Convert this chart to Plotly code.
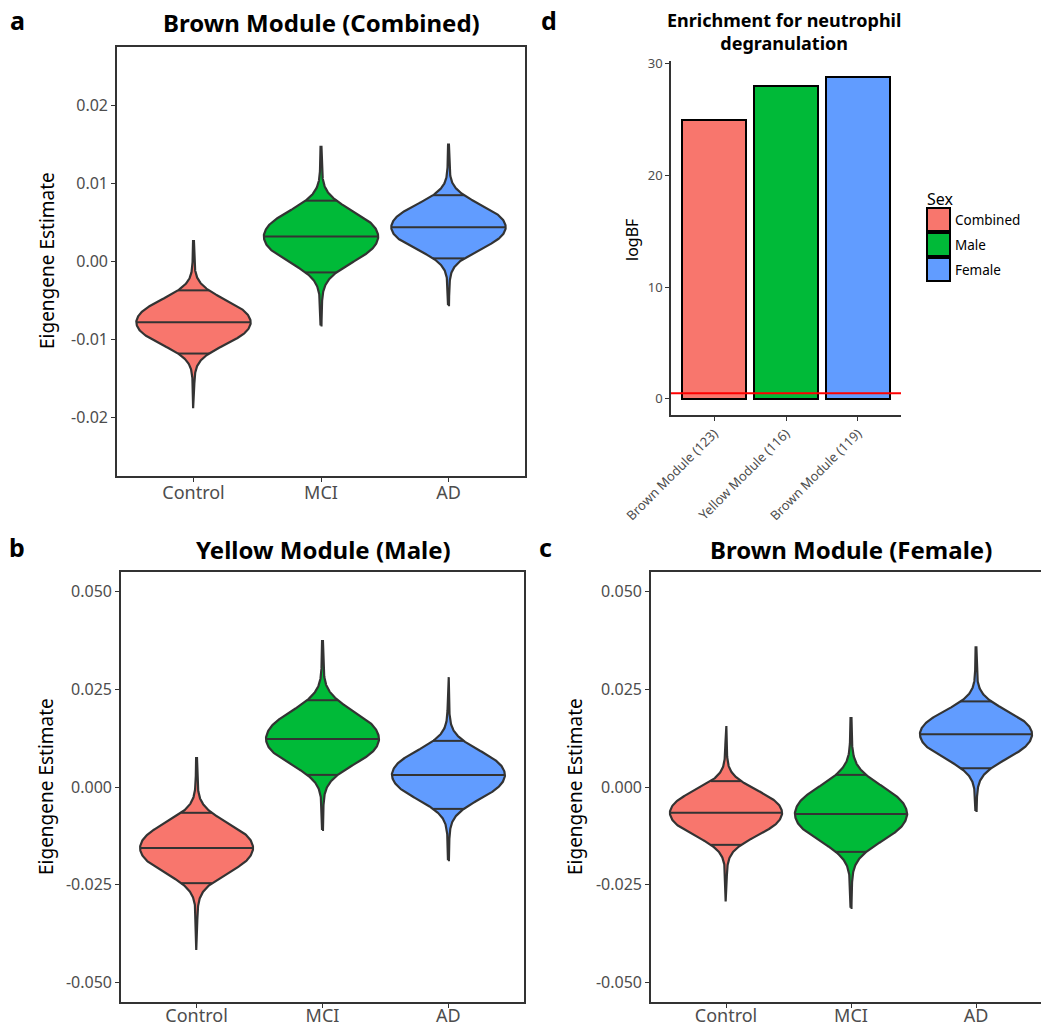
import numpy as np
import plotly.graph_objects as go

W, H = 1041, 1028

# ---------------- data ----------------
groups = ["Control", "MCI", "AD"]
colors = ["#F8766D", "#00BA38", "#619CFF"]

# per group: [lower tail end, lower quantile line, median, upper quantile line, upper tail end]
brown_combined = {
    "Control": [-0.0188, -0.0118, -0.0078, -0.0037, 0.0026],
    "MCI":     [-0.0082, -0.0014, 0.0032, 0.0078, 0.0147],
    "AD":      [-0.0056, 0.0004, 0.0044, 0.0085, 0.0150],
}
yellow_male = {
    "Control": [-0.0417, -0.0246, -0.0156, -0.0066, 0.0074],
    "MCI":     [-0.0110, 0.0031, 0.0123, 0.0222, 0.0373],
    "AD":      [-0.0187, -0.0056, 0.0031, 0.0118, 0.0281],
}
brown_female = {
    "Control": [-0.0293, -0.0148, -0.0066, 0.0015, 0.0156],
    "MCI":     [-0.0309, -0.0166, -0.0069, 0.0031, 0.0176],
    "AD":      [-0.0061, 0.0048, 0.0135, 0.0219, 0.0357],
}

ticks_a = [-0.02, -0.01, 0.0, 0.01, 0.02]
ticktext_a = ["-0.02", "-0.01", "0.00", "0.01", "0.02"]
ticks_bc = [-0.05, -0.025, 0.0, 0.025, 0.05]
ticktext_bc = ["-0.050", "-0.025", "0.000", "0.025", "0.050"]

sex = ["Combined", "Male", "Female"]
modules = ["Brown Module (123)", "Yellow Module (116)", "Brown Module (119)"]
logBF = [25.0, 28.0, 28.8]
logBF_threshold = 0.5
ticks_d = [0, 10, 20, 30]

# ---------------- helpers ----------------
FONT = "Noto Sans"
LINE = "#333333"
TICKC = "#4D4D4D"


def px_x(p):
    return p / W


def px_y(p):
    return 1 - p / H


def profile(z):
    z = np.abs(z)
    return 0.9 * np.exp(-1.35 * z ** 2.5) + 0.1 * np.exp(-z)


fig = go.Figure()


def add_violins(data, xa, ya):
    for i, g in enumerate(groups):
        lo, qlo, med, qhi, hi = data[g]
        pos = i + 1
        ys = np.linspace(lo, hi, 301)
        z = np.where(ys >= med, (ys - med) / (qhi - med), (med - ys) / (med - qlo))
        hw = 0.45 * profile(z)
        xs = np.concatenate([pos - hw, (pos + hw)[::-1], [pos - hw[0]]])
        yy = np.concatenate([ys, ys[::-1], [ys[0]]])
        fig.add_trace(go.Scatter(x=xs, y=yy, mode="lines", fill="toself",
                                 fillcolor=colors[i],
                                 line=dict(color=LINE, width=2.2),
                                 xaxis=xa, yaxis=ya, showlegend=False,
                                 hoverinfo="skip"))
        qx, qy = [], []
        for q in (qlo, med, qhi):
            zq = (q - med) / (qhi - med) if q >= med else (med - q) / (med - qlo)
            h = 0.45 * profile(zq)
            qx += [pos - h, pos + h, None]
            qy += [q, q, None]
        fig.add_trace(go.Scatter(x=qx, y=qy, mode="lines",
                                 line=dict(color=LINE, width=2),
                                 xaxis=xa, yaxis=ya, showlegend=False,
                                 hoverinfo="skip"))


add_violins(brown_combined, "x", "y")
add_violins(yellow_male, "x2", "y2")
add_violins(brown_female, "x3", "y3")

# bars (panel d)
for i, s in enumerate(sex):
    fig.add_trace(go.Bar(x=[i + 1], y=[logBF[i]], width=0.9, name=s,
                         marker=dict(color=colors[i], line=dict(color="black", width=2)),
                         xaxis="x4", yaxis="y4", showlegend=False))

base = dict(showgrid=False, zeroline=False, showline=True, linecolor=LINE,
            linewidth=1.6, ticks="outside", ticklen=4, tickwidth=1.4,
            automargin=False, tickcolor=LINE)
xax = dict(base, tickfont=dict(family=FONT, size=18, color=TICKC), ticklabelstandoff=-4)
xax_low = dict(base, tickfont=dict(family=FONT, size=18, color=TICKC), ticklabelstandoff=-7)
yax = dict(base, tickfont=dict(family=FONT, size=16, color=TICKC))

fig.update_layout(
    template=None,
    width=W, height=H, margin=dict(l=0, r=0, t=0, b=0, autoexpand=False),
    paper_bgcolor="white", plot_bgcolor="white",
    bargap=0,
    xaxis=dict(domain=[px_x(117), px_x(525)], range=[0.4, 3.6], tickvals=[1, 2, 3],
               ticktext=groups, mirror=True, anchor="y", **xax),
    yaxis=dict(domain=[px_y(476), px_y(47)], range=[-0.0275, 0.0275], tickvals=ticks_a,
               ticktext=ticktext_a, mirror=True, anchor="x", **yax),
    xaxis2=dict(domain=[px_x(121), px_x(524)], range=[0.4, 3.6], tickvals=[1, 2, 3],
                ticktext=groups, mirror=True, anchor="y2", **xax_low),
    yaxis2=dict(domain=[px_y(1002), px_y(572)], range=[-0.055, 0.055], tickvals=ticks_bc,
                ticktext=ticktext_bc, mirror=True, anchor="x2", **yax),
    xaxis3=dict(domain=[px_x(651), 1.0], range=[0.4, 3.52], tickvals=[1, 2, 3],
                ticktext=groups, mirror=True, anchor="y3", **xax_low),
    yaxis3=dict(domain=[px_y(1002), px_y(572)], range=[-0.055, 0.055], tickvals=ticks_bc,
                ticktext=ticktext_bc, mirror=False, anchor="x3", **yax),
    xaxis4=dict(domain=[px_x(671), px_x(901)], range=[0.4, 3.6], tickvals=[1, 2, 3],
                ticktext=modules, tickangle=-45, anchor="y4",
                **dict(base, tickfont=dict(family=FONT, size=13, color=TICKC))),
    yaxis4=dict(domain=[px_y(415), px_y(61)], range=[-1.44, 30.24], tickvals=ticks_d,
                anchor="x4",
                **dict(base, tickfont=dict(family=FONT, size=13, color=TICKC))),
)

fig.add_shape(type="line", xref="x4 domain", yref="y4", x0=0, x1=1,
              y0=logBF_threshold, y1=logBF_threshold, line=dict(color="red", width=2))

ann = []
# panel titles
ann.append(dict(text="<b>Brown Module (Combined)</b>", x=px_x(321), y=px_y(22),
                font=dict(size=24, family=FONT, color="black")))
ann.append(dict(text="<b>Yellow Module (Male)</b>", x=px_x(323), y=px_y(549),
                font=dict(size=24, family=FONT, color="black")))
ann.append(dict(text="<b>Brown Module (Female)</b>", x=px_x(851), y=px_y(549),
                font=dict(size=24, family=FONT, color="black")))
ann.append(dict(text="<b>Enrichment for neutrophil<br>degranulation</b>", x=px_x(784),
                y=px_y(31), font=dict(size=18, family=FONT, color="black")))
# panel letters
for letter, x, y in [("a", 17, 20), ("d", 549, 20), ("b", 17, 547), ("c", 545, 547)]:
    ann.append(dict(text=f"<b>{letter}</b>", x=px_x(x), y=px_y(y),
                    font=dict(size=25, family=FONT, color="black")))
# y-axis titles
for x, y in [(47, 261), (46, 787), (575, 787)]:
    ann.append(dict(text="Eigengene Estimate", x=px_x(x), y=px_y(y), textangle=-90,
                    font=dict(size=19, family=FONT, color="black")))
ann.append(dict(text="logBF", x=px_x(632), y=px_y(240), textangle=-90,
                font=dict(size=16, family=FONT, color="black")))
# legend (panel d)
ann.append(dict(text="Sex", x=px_x(925), y=px_y(199), xanchor="left",
                font=dict(size=16, family=FONT, color="black")))
for i, s in enumerate(sex):
    y0 = 208 + 25 * i
    fig.add_shape(type="rect", xref="paper", yref="paper", x0=px_x(927), x1=px_x(950),
                  y0=px_y(y0), y1=px_y(y0 + 23), fillcolor=colors[i],
                  line=dict(color="black", width=2))
    ann.append(dict(text=s, x=px_x(953), y=px_y(y0 + 12), xanchor="left",
                    font=dict(size=13.5, family=FONT, color="black")))

for a in ann:
    a.setdefault("xanchor", "center")
    a.update(xref="paper", yref="paper", showarrow=False, yanchor="middle")
    fig.add_annotation(**a)

fig.write_html("out.html")
